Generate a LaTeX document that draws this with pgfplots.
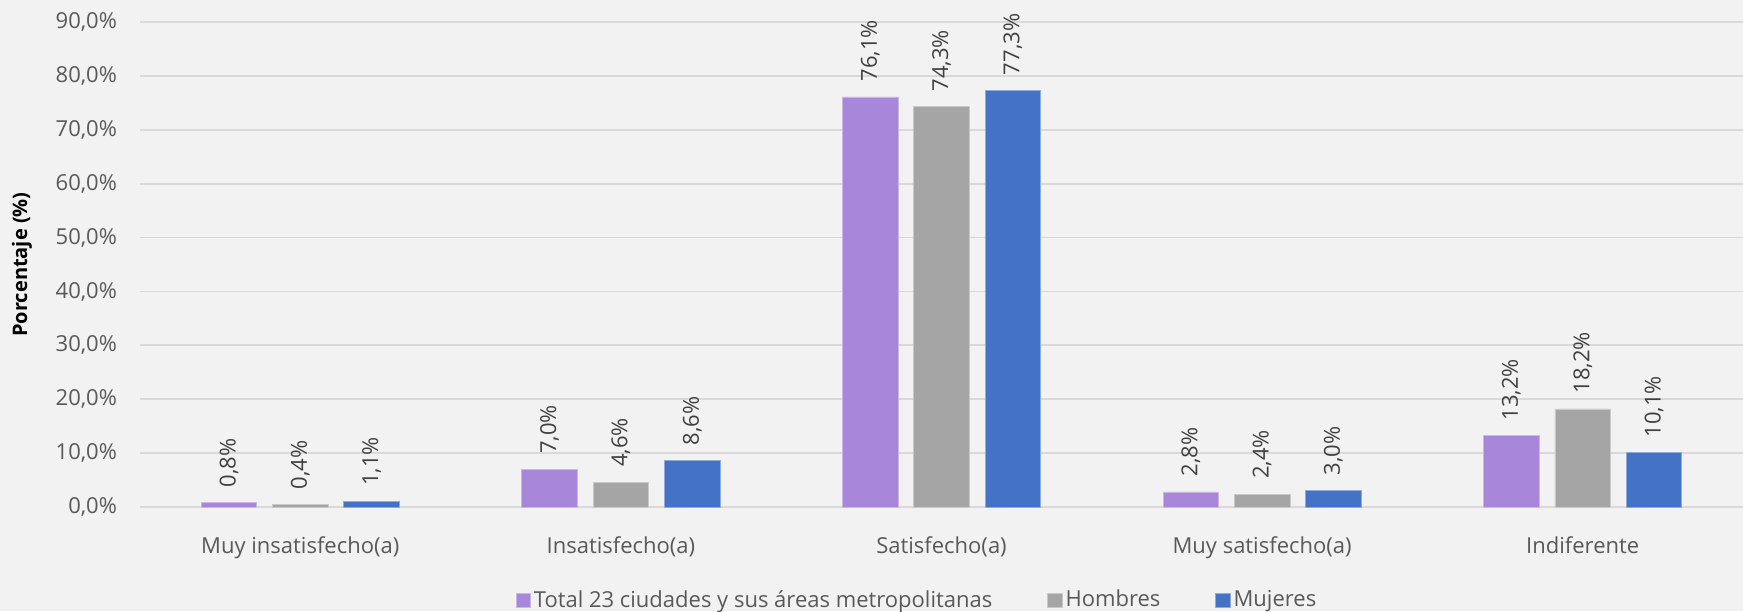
\documentclass[border=0pt]{standalone}
\usepackage{pgfplots}
\usepackage{pgfplotstable}
\pgfplotsset{compat=1.18}
\usepackage{fontspec}
\setmainfont{Open Sans}
\definecolor{bgc}{HTML}{F2F2F2}
\definecolor{gridc}{HTML}{D9D9D9}
\definecolor{txt}{HTML}{595959}
\definecolor{lbl}{HTML}{404040}
\definecolor{cTotal}{HTML}{A886DA}
\definecolor{cHom}{HTML}{A5A5A5}
\definecolor{cMuj}{HTML}{4472C4}
\pgfplotstableread{
x total hombres mujeres
0 0.8 0.4 1.1
1 7.0 4.6 8.6
2 76.1 74.3 77.3
3 2.8 2.4 3.0
4 13.2 18.2 10.1
}\data
\begin{document}
\begin{tikzpicture}
\fill[bgc] (-70pt,-52pt) rectangle (801.5pt,253.5pt);
\useasboundingbox (-70pt,-52pt) rectangle (801.5pt,253.5pt);
\begin{axis}[
  at={(0pt,0pt)}, anchor=south west,
  scale only axis, width=801.5pt, height=242.5pt,
  xmin=-0.5, xmax=4.5, ymin=0, ymax=90,
  ybar=7.85pt, bar width=27.8pt,
  /pgf/number format/assume math mode=true,
  xtick={0,1,2,3,4},
  xticklabels={Muy insatisfecho(a),Insatisfecho(a),Satisfecho(a),Muy satisfecho(a),Indiferente},
  ytick={0,10,...,90},
  yticklabel={\pgfmathprintnumber[fixed,fixed zerofill,precision=1,use comma]{\tick}\%},
  tick style={draw=none},
  axis line style={draw=none},
  xmajorgrids=false, ymajorgrids=true,
  major grid style={draw=gridc, line width=0.9pt},
  tick label style={font=\fontsize{11}{13}\selectfont, text=txt},
  yticklabel style={xshift=-8pt},
  xticklabel style={yshift=-7pt},
  ylabel={Porcentaje (\%)},
  ylabel style={font=\fontsize{10}{12}\selectfont\bfseries, text=black, at={(axis description cs:-0.0736,0.5)}, anchor=center},
  nodes near coords={\pgfmathprintnumber[fixed,fixed zerofill,precision=1,use comma]{\pgfplotspointmeta}\%},
  nodes near coords style={rotate=90, anchor=west, inner sep=7.5pt, font=\fontsize{11}{13}\selectfont, text=lbl},
  legend columns=3,
  legend style={at={(axis description cs:0.485,-0.192)}, anchor=center, draw=none, fill=none,
    font=\fontsize{11}{13}\selectfont, text=txt,
    /tikz/every even column/.append style={column sep=26pt},
    nodes={inner sep=1.5pt}},
  legend image code/.code={\fill[#1] (0pt,-3.6pt) rectangle (7.2pt,3.6pt);},
]
\addplot[fill=cTotal, draw=white!40!cTotal, line width=0.4pt] table[x=x,y=total]{\data};
\addplot[fill=cHom, draw=white!40!cHom, line width=0.4pt] table[x=x,y=hombres]{\data};
\addplot[fill=cMuj, draw=white!40!cMuj, line width=0.4pt] table[x=x,y=mujeres]{\data};
\legend{Total 23 ciudades y sus áreas metropolitanas, Hombres, Mujeres}
\end{axis}
\end{tikzpicture}
\end{document}
